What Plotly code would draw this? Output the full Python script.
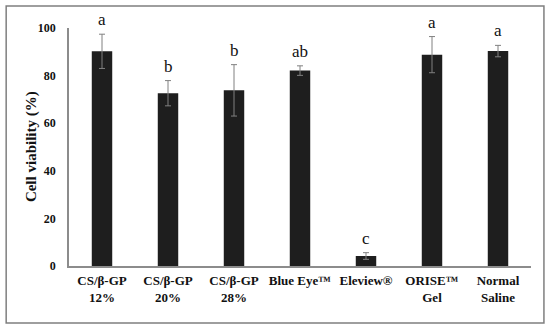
import plotly.graph_objects as go

categories = ["CS/β-GP<br>12%", "CS/β-GP<br>20%", "CS/β-GP<br>28%", "Blue Eye™",
              "Eleview®", "ORISE™<br>Gel", "Normal<br>Saline"]
viability = [90.2, 72.6, 73.8, 82.1, 4.2, 88.8, 90.3]
errors = [7.2, 5.3, 10.8, 2.0, 1.4, 7.6, 2.4]
letters = ["a", "b", "b", "ab", "c", "a", "a"]
y_ticks = [0, 20, 40, 60, 80, 100]
y_title = "Cell viability (%)"

serif = "Liberation Serif, Times New Roman, serif"

fig = go.Figure()
fig.add_trace(go.Bar(
    x=categories, y=viability,
    marker=dict(color="#1e1e1e", line=dict(width=0)),
    width=0.31,
    error_y=dict(type="data", array=errors, visible=True,
                 color="#808080", thickness=1, width=3),
))

for cat, v, e, lab in zip(categories, viability, errors, letters):
    fig.add_annotation(x=cat, y=v + e, text=lab, showarrow=False,
                       yanchor="bottom", yshift=3,
                       font=dict(family=serif, size=17, color="#111"))

fig.add_annotation(xref="paper", yref="paper", x=-0.082, y=0.5, text=y_title,
                   textangle=-90, showarrow=False, xanchor="center", yanchor="middle",
                   font=dict(family=serif, size=15, color="#111", weight="bold"))

fig.add_shape(type="rect", xref="paper", yref="paper",
              x0=-0.136, x1=1.028, y0=-0.2395, y1=1.092,
              line=dict(color="#7f7f7f", width=1.5), layer="below")

fig.update_layout(
    width=550, height=331,
    margin=dict(l=69, r=19, t=28, b=65),
    paper_bgcolor="white", plot_bgcolor="white",
    showlegend=False,
    bargap=0.69,
    xaxis=dict(showline=True, linecolor="#8c8c8c", linewidth=1.5,
               ticks="", showgrid=False, automargin=False, ticklabelstandoff=2,
               tickfont=dict(family=serif, size=13, color="#111", weight="bold")),
    yaxis=dict(range=[0, 100], tickvals=y_ticks, showline=True, automargin=False,
               linecolor="#8c8c8c", linewidth=1.5, ticks="", showgrid=False,
               zeroline=False, ticklabelstandoff=9,
               tickfont=dict(family=serif, size=12, color="#111", weight="bold")),
)

fig.write_html("out.html", config={"displayModeBar": False},
               post_script="document.body.style.margin='0';")
